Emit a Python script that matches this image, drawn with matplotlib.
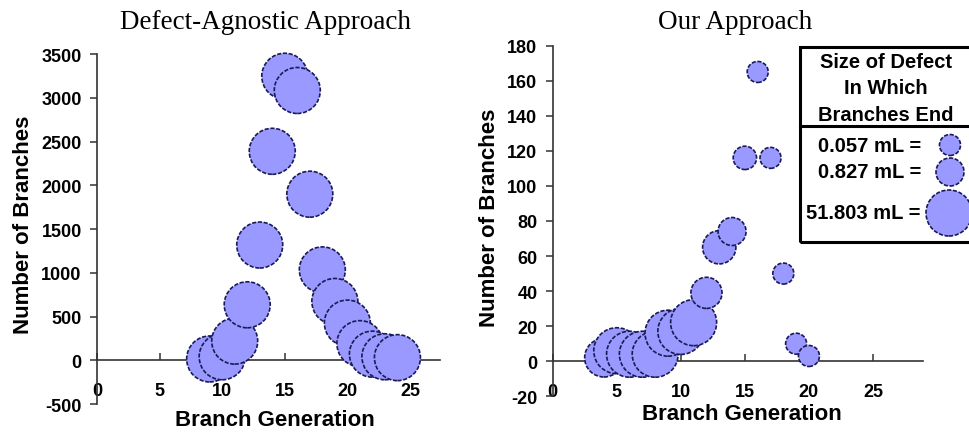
import numpy as np
import matplotlib
matplotlib.use("Agg")
import matplotlib.pyplot as plt
from matplotlib.patches import Rectangle
from matplotlib.lines import Line2D

# defect-agnostic counts per branch generation
left_gen = [9, 10, 11, 12, 13, 14, 15, 16, 17, 18, 19, 20, 21, 22, 23, 24]
left_count = [15, 40, 219, 634, 1317, 2388, 3246, 3083, 1898, 1033, 672, 425, 190, 70, 40, 30]
left_volume = [51.803, 51.803, 51.803, 51.803, 51.803, 51.803, 51.803, 51.803,
               51.803, 51.803, 51.803, 51.803, 51.803, 51.803, 51.803, 51.803]

# our approach: counts and size of the defect each branch ends in (mL)
right_gen = [4, 5, 6, 7, 8, 9, 10, 11, 12, 13, 14, 15, 16, 17, 18, 19, 20]
right_count = [2, 6, 4, 4, 4, 16, 17, 22, 39, 65, 74, 116, 165, 116, 50, 10, 3]
right_volume = [9.4, 51.803, 51.803, 51.803, 51.803, 51.803, 51.803, 51.803,
                1.7, 2.8, 0.827, 0.14, 0.057, 0.057, 0.057, 0.057, 0.057]

legend_volume = [0.057, 0.827, 51.803]
legend_labels = ["0.057 mL =", "0.827 mL =", "51.803 mL ="]

left_yticks = [-500, 0, 500, 1000, 1500, 2000, 2500, 3000, 3500]
right_yticks = [-20, 0, 20, 40, 60, 80, 100, 120, 140, 160, 180]
xticks = [0, 5, 10, 15, 20, 25]

plt.rcParams["axes.unicode_minus"] = False

DPI = 100
FILL = "#9999ff"
EDGE = "#1a1a55"
BOLD = dict(family="Liberation Sans", weight="bold")


def bubble_area(vol):
    # bubble diameter in pixels on a log scale of defect volume
    d = np.interp(np.log10(vol), np.log10(legend_volume), [21, 28, 46])
    return (d * 72.0 / DPI) ** 2


def style_axes(ax, yticks, xmax):
    ax.set_xlim(0, xmax)
    ax.set_ylim(yticks[0], yticks[-1])
    for side in ("top", "right"):
        ax.spines[side].set_visible(False)
    ax.spines["bottom"].set_position(("data", 0))
    for side in ("left", "bottom"):
        ax.spines[side].set_linewidth(1.2)
        ax.spines[side].set_color("#333333")
    ax.set_yticks(yticks)
    ax.set_xticks(xticks)
    ax.tick_params(axis="y", direction="out", length=5, width=1.1,
                   color="#333333", pad=6)
    ax.tick_params(axis="x", direction="in", length=5, width=1.1,
                   color="#333333", pad=16)
    for lab in ax.get_xticklabels() + ax.get_yticklabels():
        lab.set_fontfamily("Liberation Sans")
        lab.set_fontweight("bold")
        lab.set_fontsize(13)
    ax.set_xlabel("Branch Generation", fontsize=16, **BOLD)
    ax.set_ylabel("Number of Branches", fontsize=16, **BOLD)
    ax.xaxis.label.set_va("center")
    ax.yaxis.label.set_va("center")


fig = plt.figure(figsize=(9.70, 4.39), dpi=DPI)

ax1 = fig.add_axes([0.100, 0.0774, 0.3536, 0.7973])
ax1.scatter(left_gen, left_count, s=bubble_area(left_volume), c=FILL,
            edgecolors=EDGE, linewidths=1.2, linestyles=(0, (2.5, 1)),
            zorder=3, clip_on=False)
style_axes(ax1, left_yticks, 27.4)
ax1.xaxis.set_label_coords(0.52, -0.043)
ax1.yaxis.set_label_coords(-0.215, 0.514)

ax2 = fig.add_axes([0.5698, 0.0950, 0.3817, 0.7987])
ax2.scatter(right_gen, right_count, s=bubble_area(right_volume), c=FILL,
            edgecolors=EDGE, linewidths=1.2, linestyles=(0, (2.5, 1)),
            zorder=3, clip_on=False)
style_axes(ax2, right_yticks, 28.9)
ax2.xaxis.set_label_coords(0.51, -0.05)
ax2.yaxis.set_label_coords(-0.17, 0.511)

fig.text(0.274, 0.948, "Defect-Agnostic Approach", ha="center", va="center",
         family="Liberation Serif", fontsize=19.5)
fig.text(0.758, 0.948, "Our Approach", ha="center", va="center",
         family="Liberation Serif", fontsize=19.5)

# bubble size key, running off the right edge of the figure
W, H = 970.0, 439.0
box_top, box_div, box_bot = 48, 127, 243
fig.patches.append(Rectangle((800 / W, 1 - box_bot / H), 200 / W,
                             (box_bot - box_top) / H, transform=fig.transFigure,
                             fill=False, edgecolor="black", linewidth=2.2))
fig.lines.append(Line2D([800 / W, 1.0], [1 - box_div / H] * 2,
                        transform=fig.transFigure, color="black", linewidth=2.2))
for i, line in enumerate(["Size of Defect", "In Which", "Branches End"]):
    fig.text(886 / W, 1 - (62 + 27 * i) / H, line, ha="center", va="center",
             fontsize=14.5, **BOLD)

key_y = [146, 173, 214]
key_x = [950, 950, 949]
for vol, lab, yy, xx in zip(legend_volume, legend_labels, key_y, key_x):
    fig.text(921 / W, 1 - yy / H, lab, ha="right", va="center",
             fontsize=14.5, **BOLD)
    ax2.scatter([xx / W], [1 - yy / H], s=bubble_area(vol), c=FILL,
                edgecolors=EDGE, linewidths=1.2, linestyles=(0, (2.5, 1)),
                transform=fig.transFigure, clip_on=False, zorder=5)

fig.savefig("out.png", dpi=DPI)
